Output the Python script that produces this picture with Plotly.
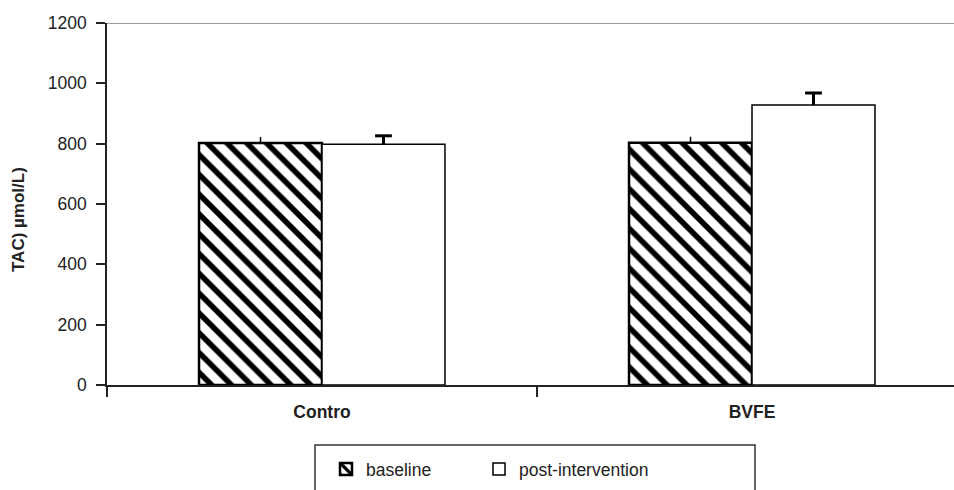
import plotly.graph_objects as go

groups = ["Contro", "BVFE"]
baseline = [802, 803]
baseline_err = [20, 20]
post = [798, 928]
post_err = [28, 40]
y_ticks = [0, 200, 400, 600, 800, 1000, 1200]

W, H = 954, 490
L, R, T, B = 107, 0, 23, 105
pw = W - L - R
ph = H - T - B

def px_x(x):
    return (x - L) / pw

def px_y(y):
    return (H - B - y) / ph

fig = go.Figure()
fig.add_trace(go.Bar(
    name="baseline", x=groups, y=baseline, offsetgroup="a", legendwidth=108,
    marker=dict(color="white", line=dict(color="black", width=2.5),
                pattern=dict(shape="\\", fgcolor="black", bgcolor="white", fgopacity=1,
                             size=14, solidity=0.4)),
    error_y=dict(type="data", array=baseline_err, arrayminus=[0, 0], symmetric=False,
                 color="black", thickness=1.5, width=0),
))
fig.add_trace(go.Bar(
    name="post-intervention", x=groups, y=post, offsetgroup="b", legendwidth=220,
    marker=dict(color="white", line=dict(color="black", width=1.5)),
    error_y=dict(type="data", array=post_err, arrayminus=[0, 0], symmetric=False,
                 color="black", thickness=3, width=0),
))
# caps of the post-intervention error bars
fig.add_trace(go.Scatter(
    x=groups, y=[p + e for p, e in zip(post, post_err)], offsetgroup="b",
    mode="markers", showlegend=False, hoverinfo="skip",
    marker=dict(symbol="line-ew", size=12, line=dict(color="black", width=3)),
))

fig.update_layout(
    width=W, height=H,
    margin=dict(l=L, r=R, t=T, b=B, pad=0),
    paper_bgcolor="white", plot_bgcolor="white",
    barmode="group", bargap=0.428, bargroupgap=0,
    scattermode="group", scattergap=0.428,
    font=dict(family="Liberation Sans, Arial, sans-serif", size=17, color="#222"),
    showlegend=True,
    legend=dict(orientation="h", x=px_x(326), y=px_y(451), xanchor="left", yanchor="top",
                bgcolor="rgba(0,0,0,0)", borderwidth=0,
                font=dict(size=17.5, color="#222"), traceorder="normal"),
    shapes=[
        dict(type="line", xref="paper", yref="y", x0=0, x1=1, y0=1200, y1=1200,
             line=dict(color="#999", width=2), layer="below"),
        dict(type="rect", xref="paper", yref="paper", x0=px_x(315), x1=px_x(755),
             y0=px_y(445), y1=px_y(520), line=dict(color="#333", width=1.5),
             fillcolor="rgba(0,0,0,0)"),
    ],
    annotations=[
        dict(text="<b>TAC) µmol/L)</b>", xref="paper", yref="paper",
             x=px_x(18), y=px_y(220), xanchor="center", yanchor="middle",
             textangle=-90, showarrow=False, font=dict(size=17, color="#222")),
    ],
)
fig.update_xaxes(
    range=[-0.5, -0.5 + pw / 430.0],
    tickson="boundaries", ticks="outside", ticklen=10, tickwidth=1.5, tickcolor="#222",
    showline=True, linecolor="#222", linewidth=1.5,
    showgrid=False, zeroline=False, ticklabelstandoff=10,
    tickfont=dict(size=17.5, color="#222", family="Liberation Sans, Arial, sans-serif"),
    tickprefix="<b>", ticksuffix="</b>",
)
fig.update_yaxes(
    range=[0, 1200], tickvals=y_ticks, ticks="outside", ticklen=9, tickwidth=1.5, tickcolor="#222",
    showline=True, linecolor="#222", linewidth=1.5, showgrid=False, zeroline=False,
    ticklabelstandoff=6,
    tickfont=dict(size=17.5, color="#222"),
)

fig.write_html("out.html")
